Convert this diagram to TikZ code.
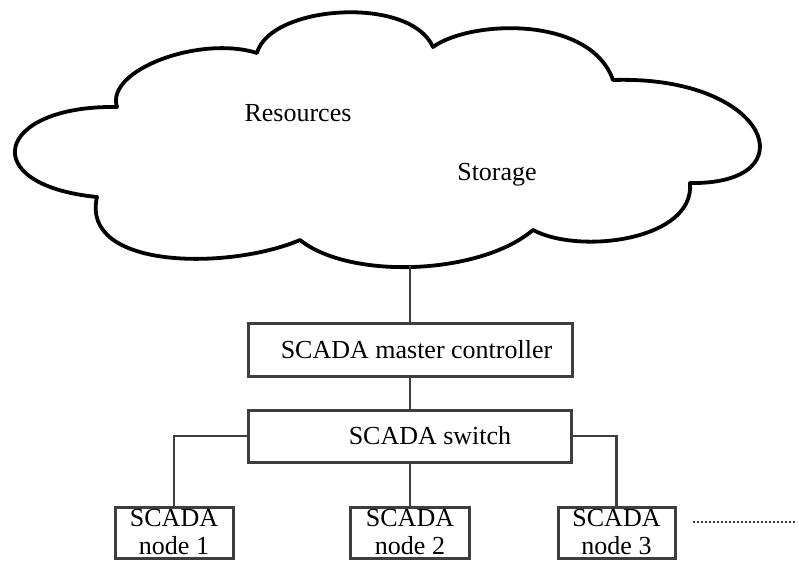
\documentclass[tikz,border=0pt]{standalone}
\usepackage{fontspec}
\setmainfont{Liberation Serif}
\usepackage{tikz}
\usetikzlibrary{positioning}
\definecolor{edge_gray}{RGB}{62,62,62}
\tikzset{
  scadabox/.style={draw=edge_gray, line width=3pt, inner sep=0pt, align=center,
    font=\fontsize{26}{28}\selectfont},
  link/.style={draw=edge_gray, line width=2.4pt},
  dotlink/.style={draw=edge_gray, line width=1.8pt, dash pattern=on 2pt off 2pt},
}

\begin{document}
\begin{tikzpicture}[x=1pt,y=-1pt]
\useasboundingbox (0,0) rectangle (799,560);
% --- cloud
\draw[line width=3.8pt, line join=round] (117,107)
  .. controls (105,70) and (200,35) .. (257,53)
  .. controls (270,5) and (410,-5) .. (433,47)
  .. controls (470,20) and (590,15) .. (613,80)
  .. controls (770,75) and (810,185) .. (690,183)
  .. controls (695,240) and (580,255) .. (533,230)
  .. controls (480,275) and (350,280) .. (300,240)
  .. controls (230,270) and (80,270) .. (97,197)
  .. controls (-25,185) and (-5,105) .. cycle;

\node[anchor=base, font=\fontsize{26}{28}\selectfont] (Res) at (298,121) {Resources};
\node[anchor=base, font=\fontsize{26}{28}\selectfont] (Sto) at (497,180) {Storage};
\coordinate (CloudBase) at (410,266);
% --- master and switch
\node[scadabox, minimum width=324pt, minimum height=53pt] (Master) at (410,349.5)
  {\hspace*{13pt}SCADA master controller};
\node[scadabox, minimum width=323pt, minimum height=52pt] (Switch) at (410,436)
  {\hspace*{40pt}SCADA switch};
% --- field nodes
\node[scadabox, minimum width=118pt, minimum height=51pt] (Node1) at (174,532.5) {SCADA\\node 1};
\node[scadabox, minimum width=119pt, minimum height=51pt] (Node2) at (410,532.5) {SCADA\\node 2};
\node[scadabox, minimum width=117pt, minimum height=51pt] (Node3) at (616.5,532.5) {SCADA\\node 3};
\coordinate (DotsL) at (693,522);
\coordinate (DotsR) at (797,522);
% --- links
\draw[link] (CloudBase) -- (Master.north);
\draw[link] (Master.south) -- (Switch.north);
\draw[link] (Switch.west) -| (Node1.north);
\draw[link] (Switch.south) -- (Node2.north);
\draw[link] (Switch.east) -| (Node3.north);
\draw[dotlink] (DotsL) -- (DotsR);

\end{tikzpicture}
\end{document}
